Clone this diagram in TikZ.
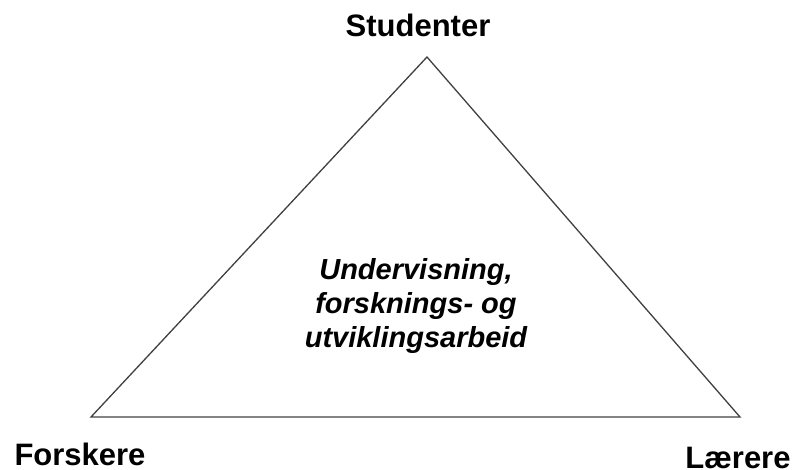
\documentclass[tikz,border=0pt]{standalone}
\usepackage{fontspec}
\setmainfont{Liberation Sans}
\usetikzlibrary{positioning}

\begin{document}
\begin{tikzpicture}[x=1pt, y=-1pt,
	edge/.style = { draw=black!75, line width=1.3pt, line join=miter },
	label/.style = { font=\fontsize{31}{34}\selectfont\bfseries, inner sep=0pt, anchor=base } ]

  \useasboundingbox (0,0) rectangle (793,470);

  \coordinate (studtop) at (427,57);
  \coordinate (forskcorner) at (91,417);
  \coordinate (laerercorner) at (740,417);

  \draw [edge] (studtop) -- (forskcorner) -- (laerercorner) -- cycle;

  \node [name=studenter, label] at (418,37) { Studenter };
  \node [name=forskere, label] at (80,465) { Forskere };
  \node [name=laerere, label] at (738,468) { Lærere };
  \node [name=activity, font=\fontsize{29}{34}\selectfont\bfseries\itshape,
	align=center, inner sep=0pt] at (416,306)
	{ Undervisning,\\ forsknings- og\\ utviklingsarbeid };
\end{tikzpicture}
\end{document}
